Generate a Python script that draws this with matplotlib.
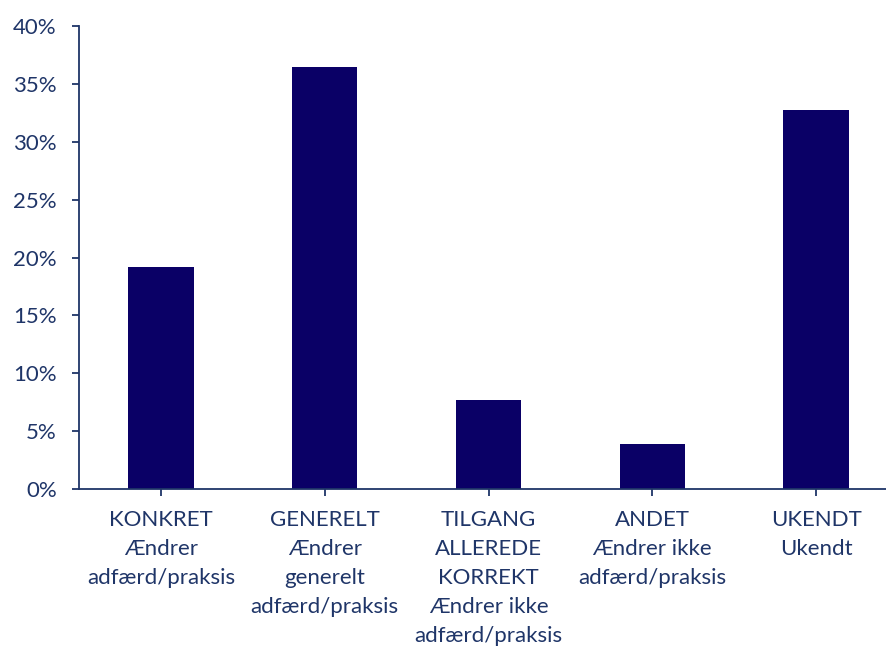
import matplotlib
matplotlib.use("Agg")
import matplotlib.pyplot as plt
from matplotlib.ticker import FuncFormatter

categories = [
    "KONKRET\nÆndrer\nadfærd/praksis",
    "GENERELT\nÆndrer\ngenerelt\nadfærd/praksis",
    "TILGANG\nALLEREDE\nKORREKT\nÆndrer ikke\nadfærd/praksis",
    "ANDET\nÆndrer ikke\nadfærd/praksis",
    "UKENDT\nUkendt",
]
values = [19.2, 36.5, 7.7, 3.9, 32.7]
yticks = [0, 5, 10, 15, 20, 25, 30, 35, 40]

bar_color = "#0A0066"
text_color = "#1F3568"

plt.rcParams["font.family"] = ["Lato", "DejaVu Sans"]

fig = plt.figure(figsize=(8.86, 6.47), dpi=100)
ax = fig.add_axes([79 / 886, (647 - 489) / 647, (898 - 79) / 886, (489 - 26) / 647])
x = list(range(len(categories)))
ax.bar(x, values, width=0.4, color=bar_color)
ax.set_xlim(-0.5, 4.5)
ax.set_ylim(0, 40)
ax.set_yticks(yticks)
ax.yaxis.set_major_formatter(FuncFormatter(lambda v, p: f"{v:.0f}%"))
ax.set_xticks(x)
ax.set_xticklabels(categories, linespacing=1.56)
for s in ["top", "right"]:
    ax.spines[s].set_visible(False)
for s in ["left", "bottom"]:
    ax.spines[s].set_color(text_color)
    ax.spines[s].set_linewidth(1.3)
ax.tick_params(axis="y", direction="out", length=5, width=1.3, color=text_color,
               labelcolor=text_color, labelsize=16, pad=11)
ax.tick_params(axis="x", direction="out", length=5, width=1.3, color=text_color,
               labelcolor=text_color, labelsize=16, pad=10)
fig.savefig("out.png", dpi=100)
